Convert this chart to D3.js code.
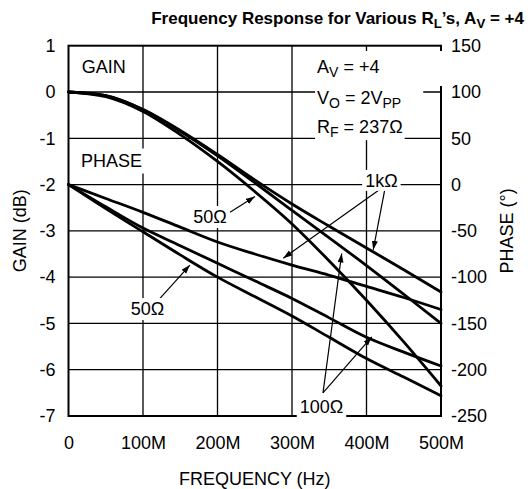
<!DOCTYPE html>
<html><head><meta charset="utf-8">
<script src="https://cdn.jsdelivr.net/npm/d3@7"></script>
<style>
body{margin:0;background:#fff}
svg{display:block}
text{font-family:"Liberation Sans",Arial,Helvetica,sans-serif;fill:#000}
</style>
</head><body>
<svg id="c" width="528" height="489"></svg>
<script>
// ---------- data ----------
const freqs    = [0, 50, 100, 150, 200, 250, 300, 350, 400, 450, 500];   // MHz
const gain1k   = [0, -0.08, -0.38, -0.83, -1.35, -1.90, -2.42, -2.90, -3.37, -3.84, -4.32]; // dB
const gain100  = [0, -0.08, -0.38, -0.85, -1.38, -1.96, -2.56, -3.15, -3.75, -4.37, -5.00];
const gain50   = [0, -0.10, -0.42, -0.92, -1.50, -2.15, -2.85, -3.65, -4.50, -5.40, -6.35];
const phase1k  = [0, -15, -30, -46, -62, -75, -87, -98, -110, -122, -135]; // degrees
const phase100 = [0, -24, -47, -66, -85, -104, -123, -144, -165, -181, -196];
const phase50  = [0, -26, -51, -76, -100, -121, -142, -165, -188, -208, -228];

const freqTicks  = [0, 100, 200, 300, 400, 500];
const freqLabels = ["0", "100M", "200M", "300M", "400M", "500M"];
const gainTicks  = [1, 0, -1, -2, -3, -4, -5, -6, -7];
const phaseTicks = [150, 100, 50, 0, -50, -100, -150, -200, -250];

// ---------- scales ----------
const svg = d3.select("#c");
const X0 = 68.5, X1 = 441, Y0 = 45.7, Y1 = 416;
const x  = d3.scaleLinear().domain([0, 500]).range([X0, X1]);
const yL = d3.scaleLinear().domain([-7, 1]).range([Y1, Y0]);
const yR = d3.scaleLinear().domain([-250, 150]).range([Y1, Y0]);
const FS = 18;

// ---------- grid ----------
const grid = svg.append("g").attr("stroke", "#000").attr("stroke-width", 1.3);
grid.selectAll(".gx").data(freqTicks.slice(1, -1)).join("line")
  .attr("x1", d => x(d)).attr("x2", d => x(d)).attr("y1", Y0).attr("y2", Y1);
grid.selectAll(".gy").data(gainTicks.slice(1, -1)).join("line")
  .attr("y1", d => yL(d)).attr("y2", d => yL(d)).attr("x1", X0).attr("x2", X1);

// ---------- curves ----------
const lineG = d3.line().x((d, i) => x(freqs[i])).y(d => yL(d)).curve(d3.curveMonotoneX);
const lineP = d3.line().x((d, i) => x(freqs[i])).y(d => yR(d)).curve(d3.curveMonotoneX);
const curves = svg.append("g").attr("fill", "none").attr("stroke", "#000")
  .attr("stroke-width", 2.8).attr("stroke-linejoin", "round").attr("stroke-linecap", "round");
[gain1k, gain100, gain50].forEach(s => curves.append("path").attr("d", lineG(s)));
[phase1k, phase100, phase50].forEach(s => curves.append("path").attr("d", lineP(s)));

// ---------- border ----------
svg.append("rect").attr("x", X0).attr("y", Y0).attr("width", X1 - X0).attr("height", Y1 - Y0)
  .attr("fill", "none").attr("stroke", "#000").attr("stroke-width", 2);

// ---------- axes ----------
function styleAxis(g) {
  g.select(".domain").remove();
  g.selectAll("text").attr("font-size", FS).attr("font-family", '"Liberation Sans",Arial,sans-serif').attr("fill", "#000");
}
svg.append("g").attr("transform", `translate(${X0},0)`)
  .call(d3.axisLeft(yL).tickValues(gainTicks).tickSize(0).tickPadding(13).tickFormat(d => String(d)))
  .call(styleAxis);
svg.append("g").attr("transform", `translate(${X1},0)`)
  .call(d3.axisRight(yR).tickValues(phaseTicks).tickSize(0).tickPadding(10).tickFormat(d => String(d)))
  .call(styleAxis);
svg.append("g").attr("transform", `translate(0,${Y1})`)
  .call(d3.axisBottom(x).tickValues(freqTicks).tickSize(0).tickPadding(20).tickFormat((d, i) => freqLabels[i]))
  .call(styleAxis);

// axis titles
svg.append("text").attr("transform", `translate(26,${(Y0 + Y1) / 2}) rotate(-90)`)
  .attr("text-anchor", "middle").attr("font-size", FS).text("GAIN (dB)");
svg.append("text").attr("transform", `translate(513,${(Y0 + Y1) / 2}) rotate(-90)`)
  .attr("text-anchor", "middle").attr("font-size", FS).text("PHASE (°)");
svg.append("text").attr("x", (X0 + X1) / 2).attr("y", 485)
  .attr("text-anchor", "middle").attr("font-size", FS).text("FREQUENCY (Hz)");

// rich text with subscripts
function richText(sel, parts, size) {
  let prevSub = false;
  parts.forEach(p => {
    if (typeof p === "string") {
      const t = sel.append("tspan").text(p);
      if (prevSub) t.attr("dy", 4);
      prevSub = false;
    } else {
      sel.append("tspan").attr("font-size", size * 0.78).attr("dy", 4).text(p.sub);
      prevSub = true;
    }
  });
  // reset baseline offsets: subscripts go down 4, following text back up
  sel.selectAll("tspan").each(function(d, i, n) {
    const t = d3.select(this);
    if (t.attr("font-size") == null && i > 0 && d3.select(n[i - 1]).attr("font-size") != null) t.attr("dy", -4);
  });
}
const title = svg.append("text").attr("x", 524).attr("y", 24).attr("text-anchor", "end")
  .attr("font-size", 17).attr("font-weight", "bold");
richText(title, ["Frequency Response for Various R", {sub: "L"}, "\u2019s, A", {sub: "V"}, " = +4"], 17);

// ---------- labels with white background ----------
function label(parts, f, db, anchor, pad) {
  const t = svg.append("text").attr("x", x(f)).attr("y", yL(db)).attr("text-anchor", anchor || "start")
    .attr("font-size", FS);
  richText(t, parts, FS);
  const b = t.node().getBBox();
  const p = pad || [2, 1, 2, 1];
  svg.insert("rect", () => t.node())
    .attr("x", b.x - p[0]).attr("y", b.y - p[1]).attr("width", b.width + p[0] + p[2]).attr("height", b.height + p[1] + p[3])
    .attr("fill", "#fff");
  return t;
}
label(["GAIN"], 17.7, 0.41);
label(["PHASE"], 16.8, -1.61, "start", [2, 2, 4, 3]);
label(["A", {sub: "V"}, " = +4"], 333.6, 0.41, "start", [2, 6, 64, 6]);
label(["V", {sub: "O"}, " = 2V", {sub: "PP"}], 333.6, -0.27, "start", [2, 4, 22, 4]);
label(["R", {sub: "F"}, " = 237\u03A9"], 333.6, -0.89, "start", [2, 2, 2, 0]);

// arrows
svg.append("defs").append("marker").attr("id", "ah").attr("markerUnits", "userSpaceOnUse")
  .attr("markerWidth", 10).attr("markerHeight", 7).attr("refX", 9).attr("refY", 3).attr("orient", "auto")
  .append("path").attr("d", "M0,0 L9,3 L0,6 z").attr("fill", "#000");
const arrows = [
  // [from f, from dB, to f, to dB]
  [216.8, -2.60, 250.3, -2.26],   // 50Ω gain
  [122.8, -4.46, 163.0, -3.74],   // 50Ω phase
  [421.0, -2.07, 288.3, -3.59],   // 1kΩ phase
  [425.0, -2.07, 409.0, -3.41],   // 1kΩ gain
  [341.6, -6.50, 366.7, -3.49],   // 100Ω gain
  [341.6, -6.50, 407.0, -5.29]    // 100Ω phase
];
svg.append("g").selectAll("line").data(arrows).join("line")
  .attr("x1", d => x(d[0])).attr("y1", d => yL(d[1])).attr("x2", d => x(d[2])).attr("y2", d => yL(d[3]))
  .attr("stroke", "#000").attr("stroke-width", 1.2).attr("marker-end", "url(#ah)");

label(["50\u03A9"], 190, -2.83, "middle", [2, 1, 2, 1]);
label(["50\u03A9"], 106, -4.82, "middle", [2, 1, 2, 1]);
label(["1k\u03A9"], 420, -2.05, "middle", [3, 1, 3, 0]);
label(["100\u03A9"], 339.6, -6.94, "middle", [3, 1, 3, 0]);
</script>
</body></html>
